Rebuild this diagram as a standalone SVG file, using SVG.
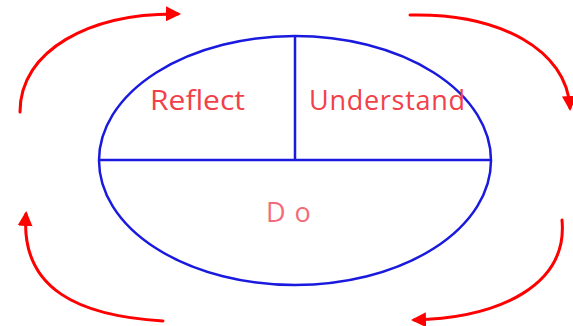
<svg xmlns="http://www.w3.org/2000/svg" width="573" height="326" viewBox="0 0 573 326">
<style>
.cyc{fill:none;stroke:#ff0000;stroke-width:3;stroke-linecap:round}
.bl{fill:none;stroke:#1a1adf;stroke-width:2.5}
.lbl{font-family:"Open Sans","Liberation Sans",sans-serif;font-size:27px;fill:#f2404a}
</style>
<defs>
<marker id="ah" viewBox="0 0 10 10" refX="8" refY="5" markerWidth="5" markerHeight="5" markerUnits="strokeWidth" orient="auto">
<path d="M0,0 L10,5 L0,10 Z" fill="#ff0000"/>
</marker>
</defs>
<g id="cycle">
<path class="cyc" d="M20,112 C20,50 90,13 178,14" marker-end="url(#ah)"/>
<path class="cyc" d="M410,15 C500,13 567,50 570,108" marker-end="url(#ah)"/>
<path class="cyc" d="M562,220 C568,285 500,318 414,320" marker-end="url(#ah)"/>
<path class="cyc" d="M163,321 C80,316 20,290 26,214" marker-end="url(#ah)"/>
</g>
<g id="ellipse">
<ellipse class="bl" cx="295" cy="160.5" rx="196" ry="124.5"/>
<line class="bl" x1="99" y1="160" x2="491" y2="160"/>
<line class="bl" x1="295" y1="36" x2="295" y2="160"/>
</g>
<g id="reflect"><text class="lbl" x="150" y="110" textLength="95" lengthAdjust="spacingAndGlyphs">Reflect</text></g>
<g id="understand"><text class="lbl" x="309" y="110" textLength="156">Understand</text></g>
<g id="do"><text class="lbl" x="266" y="222" style="letter-spacing:9px;fill:#f26b78">Do</text></g>
</svg>
